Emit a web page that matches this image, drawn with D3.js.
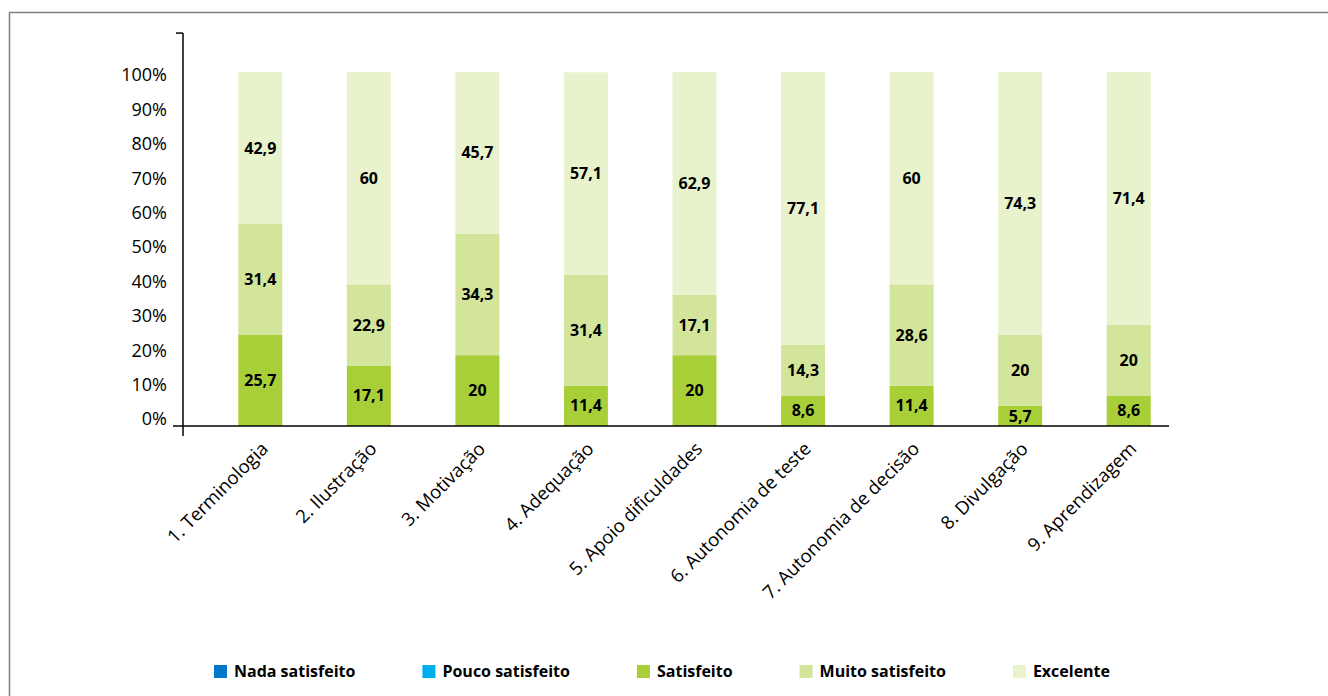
<!DOCTYPE html>
<html>
<head>
<meta charset="utf-8">
<script src="https://cdn.jsdelivr.net/npm/d3@7"></script>
<style>
  body { margin: 0; background: #fff; }
  text { font-family: "Open Sans", "Noto Sans", sans-serif; }
</style>
</head>
<body>
<div id="chart"></div>
<script>
// categories and series (percent of answers)
const categories = ["1. Terminologia", "2. Ilustração", "3. Motivação", "4. Adequação",
    "5. Apoio dificuldades", "6. Autonomia de teste", "7. Autonomia de decisão",
    "8. Divulgação", "9. Aprendizagem"];
const seriesNames = ["Nada satisfeito", "Pouco satisfeito", "Satisfeito", "Muito satisfeito", "Excelente"];
const nada = [0, 0, 0, 0, 0, 0, 0, 0, 0];
const pouco = [0, 0, 0, 0, 0, 0, 0, 0, 0];
const satisfeito = [25.7, 17.1, 20, 11.4, 20, 8.6, 11.4, 5.7, 8.6];
const muito = [31.4, 22.9, 34.3, 31.4, 17.1, 14.3, 28.6, 20, 20];
const excelente = [42.9, 60, 45.7, 57.1, 62.9, 77.1, 60, 74.3, 71.4];
const yTicks = [0, 10, 20, 30, 40, 50, 60, 70, 80, 90, 100];
const colors = ["#0077c8", "#00adef", "#a9cf38", "#d2e59a", "#e8f2cc"];

const width = 1328, height = 696;

const table = categories.map((c, i) => ({
    cat: c,
    "Nada satisfeito": nada[i],
    "Pouco satisfeito": pouco[i],
    "Satisfeito": satisfeito[i],
    "Muito satisfeito": muito[i],
    "Excelente": excelente[i]
}));

const svg = d3.select("#chart")
    .append("svg")
    .attr("width", width)
    .attr("height", height);

// outer frame
svg.append("rect")
    .attr("x", 9.5).attr("y", 12.5)
    .attr("width", width + 20).attr("height", height + 20)
    .attr("fill", "none")
    .attr("stroke", "#7f7f7f")
    .attr("stroke-width", 1.5);

const x = d3.scaleBand()
    .domain(categories)
    .range([206, 1183])
    .paddingInner(0.595)
    .paddingOuter(0.2975);

const y = d3.scaleLinear()
    .domain([0, 100])
    .range([426, 72]);

// tick labels sit on a slightly tighter scale in the original picture
const yLab = d3.scaleLinear()
    .domain([0, 100])
    .range([419, 75]);

const stack = d3.stack().keys(seriesNames)(table);

const layer = svg.selectAll(".layer")
    .data(stack)
    .join("g")
    .attr("class", "layer")
    .attr("fill", (d, i) => colors[i]);

layer.selectAll("rect")
    .data(d => d)
    .join("rect")
    .attr("x", d => x(d.data.cat))
    .attr("width", x.bandwidth())
    .attr("y", d => y(d[1]))
    .attr("height", d => y(d[0]) - y(d[1]));

// value labels
layer.selectAll("text")
    .data(d => d.filter(s => s[1] - s[0] > 0))
    .join("text")
    .attr("x", d => x(d.data.cat) + x.bandwidth() / 2)
    .attr("y", d => y((d[0] + d[1]) / 2))
    .attr("dy", "0.35em")
    .attr("text-anchor", "middle")
    .attr("fill", "#000")
    .attr("font-weight", "bold")
    .attr("font-size", 16)
    .text(d => String(+(d[1] - d[0]).toFixed(1)).replace(".", ","));

// axes
const axis = svg.append("g")
    .attr("stroke", "#000")
    .attr("stroke-width", 1.5);

axis.append("line")
    .attr("x1", 183).attr("x2", 183)
    .attr("y1", y(111)).attr("y2", y(0) + 10);
axis.append("line")
    .attr("x1", 176).attr("x2", 183)
    .attr("y1", y(111)).attr("y2", y(111));
axis.append("line")
    .attr("x1", 173).attr("x2", 1169)
    .attr("y1", y(0)).attr("y2", y(0));

svg.append("g")
    .selectAll("text")
    .data(yTicks)
    .join("text")
    .attr("x", 167)
    .attr("y", d => yLab(d))
    .attr("dy", "0.35em")
    .attr("text-anchor", "end")
    .attr("font-size", 18)
    .attr("fill", "#000")
    .text(d => d + "%");

svg.append("g")
    .selectAll("text")
    .data(categories)
    .join("text")
    .attr("transform", d => `translate(${x(d) + x.bandwidth() / 2 + 9},${y(0) + 24}) rotate(-45)`)
    .attr("text-anchor", "end")
    .attr("font-size", 18.5)
    .attr("fill", "#000")
    .text(d => d);

// legend
const legend = svg.append("g")
    .attr("transform", "translate(214,671)");

let lx = 0;
seriesNames.forEach((name, i) => {
    const item = legend.append("g").attr("transform", `translate(${lx},0)`);
    item.append("rect")
        .attr("x", 0).attr("y", -6)
        .attr("width", 13).attr("height", 13)
        .attr("fill", colors[i]);
    const t = item.append("text")
        .attr("x", 20)
        .attr("dy", "0.35em")
        .attr("font-size", 16)
        .attr("font-weight", "bold")
        .attr("fill", "#000")
        .text(name);
    lx += 20 + t.node().getComputedTextLength() + 67;
});
</script>
</body>
</html>
